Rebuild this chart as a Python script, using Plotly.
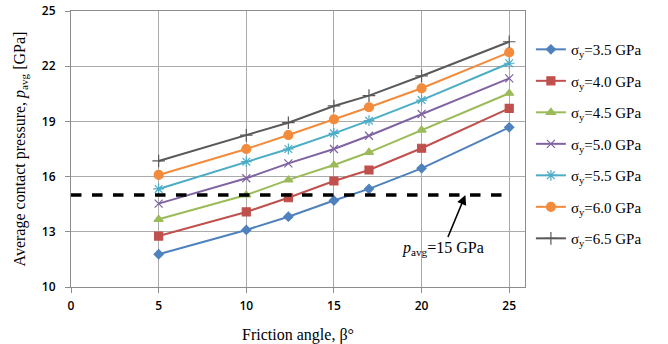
import plotly.graph_objects as go

beta = [5, 10, 12.4, 15, 17, 20, 25]
sigma_labels = ["3.5", "4.0", "4.5", "5.0", "5.5", "6.0", "6.5"]
p_35 = [11.78, 13.10, 13.82, 14.70, 15.33, 16.45, 18.68]
p_40 = [12.77, 14.08, 14.85, 15.76, 16.36, 17.54, 19.71]
p_45 = [13.68, 15.00, 15.82, 16.63, 17.32, 18.53, 20.53]
p_50 = [14.53, 15.91, 16.72, 17.50, 18.22, 19.40, 21.34]
p_55 = [15.33, 16.81, 17.50, 18.35, 19.04, 20.16, 22.16]
p_60 = [16.09, 17.50, 18.26, 19.11, 19.77, 20.80, 22.75]
p_65 = [16.85, 18.25, 18.93, 19.84, 20.40, 21.47, 23.33]
series = [p_35, p_40, p_45, p_50, p_55, p_60, p_65]
threshold_x = [0, 25]
threshold_y = [15, 15]

colors = ["#4F81BD", "#C0504D", "#9BBB59", "#8064A2", "#4BACC6", "#F38B3C", "#595959"]
symbols = ["diamond", "square", "triangle-up", "x-thin-open", "asterisk-open", "circle", "cross-thin-open"]
msizes = [7, 8, 8, 8, 9, 9, 9]

fig = go.Figure()
for i, (lab, ys) in enumerate(zip(sigma_labels, series)):
    fig.add_trace(go.Scatter(
        x=beta, y=ys, mode="lines+markers",
        name="σ<sub>y</sub>=" + lab + " GPa",
        legendgroup="g" + str(i),
        line=dict(color=colors[i], width=2),
        marker=dict(symbol=symbols[i], size=msizes[i], color=colors[i],
                    line=dict(color=colors[i], width=1.2)),
    ))

fig.add_trace(go.Scatter(
    x=threshold_x, y=threshold_y, mode="lines", showlegend=False,
    line=dict(color="black", width=3.5, dash="dash"), hoverinfo="skip",
))

fig.add_annotation(
    x=22.5, y=15, xref="x", yref="y",
    text="<i>p</i><sub>avg</sub>=15 GPa",
    showarrow=True, arrowhead=2, arrowsize=1.2, arrowwidth=1.6, arrowcolor="black",
    ax=-22, ay=53,
    font=dict(family="Liberation Serif", size=16, color="black"),
)

tick_font = dict(family="Open Sans", size=12, color="black", weight=600)

fig.update_layout(
    width=668, height=344,
    margin=dict(l=71, r=143, t=11, b=57, autoexpand=False),
    plot_bgcolor="white", paper_bgcolor="white",
    showlegend=True,
    legend=dict(
        x=1.013, y=0.92, xanchor="left", yanchor="top",
        font=dict(family="Liberation Serif", size=15, color="black"),
        tracegroupgap=9, itemwidth=30, bgcolor="rgba(0,0,0,0)",
    ),
    xaxis=dict(
        range=[0, 25.9], dtick=5, tick0=0, automargin=False,
        showgrid=True, gridcolor="#ABABAB", gridwidth=1,
        showline=True, linecolor="#8C8C8C", linewidth=1, mirror=True,
        ticks="outside", ticklen=5, tickcolor="#8C8C8C",
        ticklabelstandoff=3,
        zeroline=False,
        tickfont=tick_font,
        title=dict(text="Friction angle, β°", standoff=16,
                   font=dict(family="Liberation Serif", size=16, color="black")),
    ),
    yaxis=dict(
        range=[10, 25], dtick=3, tick0=10, automargin=False,
        showgrid=True, gridcolor="#ABABAB", gridwidth=1,
        showline=True, linecolor="#8C8C8C", linewidth=1, mirror=True,
        ticks="outside", ticklen=5, tickcolor="#8C8C8C",
        ticklabelstandoff=7,
        zeroline=False,
        tickfont=tick_font,
        title=dict(text="Average contact pressure, <i>p</i><sub>avg</sub> [GPa]", standoff=12,
                   font=dict(family="Liberation Serif", size=16, color="black")),
    ),
)

fig.write_html("out.html", post_script="document.body.style.margin='0';",
               config={"displayModeBar": False})
